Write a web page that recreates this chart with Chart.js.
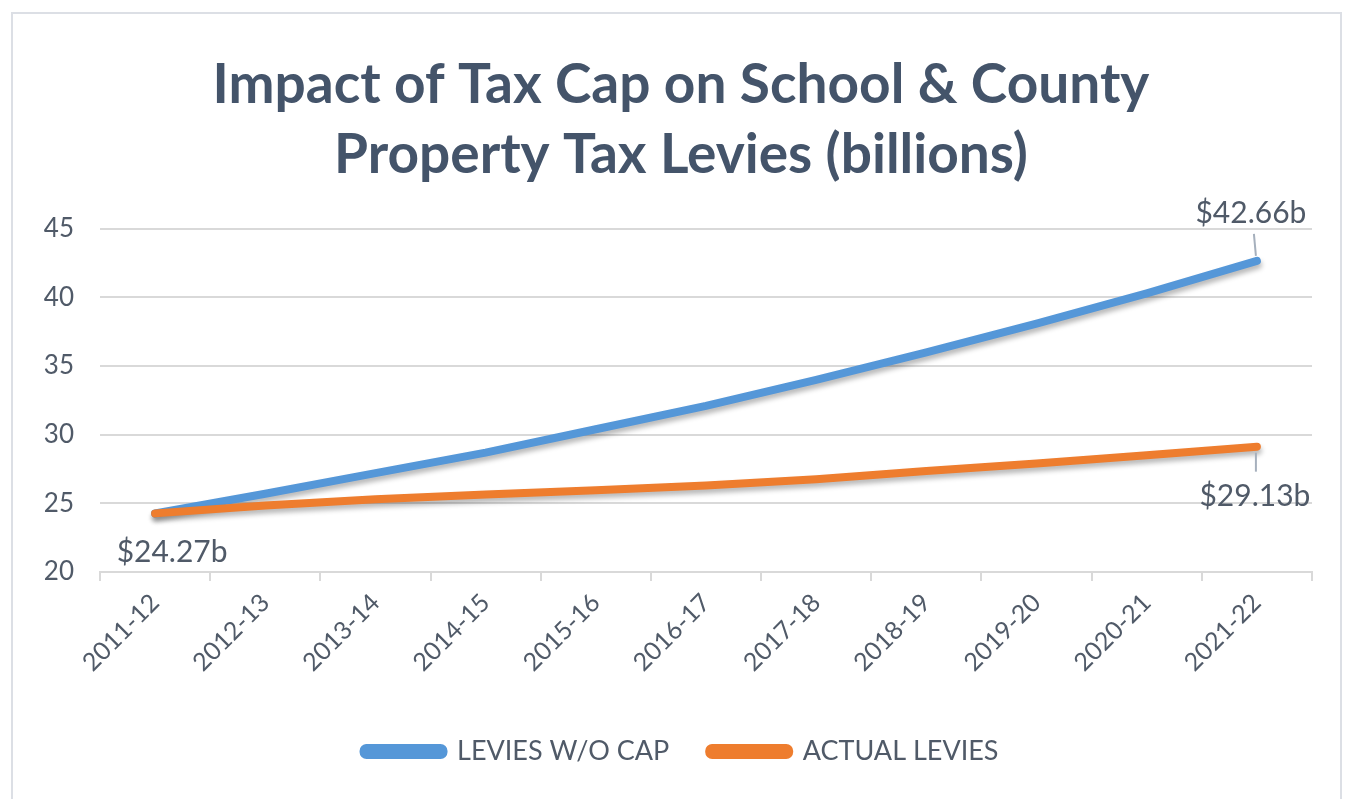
<!DOCTYPE html>
<html>
<head>
<meta charset="utf-8">
<style>
  html, body { margin: 0; padding: 0; background: #fff; overflow: hidden; }
  .frame { position: absolute; left: 11px; top: 12px; width: 1331px; height: 820px; border: 2px solid #dcdfe5; box-sizing: border-box; }
  .wrap { position: absolute; left: 0; top: 0; width: 1353px; height: 799px; }
</style>
</head>
<body>
<div class="frame"></div>
<div class="wrap"><canvas id="levyChart" width="1353" height="799"></canvas></div>

<script src="https://cdn.jsdelivr.net/npm/chart.js"></script>
<script>
    // School years on the x axis
    const years = ['2011-12', '2012-13', '2013-14', '2014-15', '2015-16', '2016-17',
                   '2017-18', '2018-19', '2019-20', '2020-21', '2021-22'];

    // Levies in billions of dollars
    const leviesWithoutCap = [24.27, 25.7, 27.2, 28.7, 30.4, 32.1, 34.0, 36.0, 38.1, 40.3, 42.66];
    const actualLevies     = [24.27, 24.85, 25.3, 25.65, 25.95, 26.3, 26.75, 27.35, 27.9, 28.5, 29.13];

    // Points that carry a value label: [dataset index, point index, dx, dy, leader line]
    const labelledPoints = [
        [0, 10, -6, -48, true],
        [1, 10, -2, 50, true],
        [1, 0, 17, 39, false]
    ];

    const textColor = '#505a68';
    const gridColor = '#d9d9d9';
    const blue = '#5597d8';
    const orange = '#ee7d2e';

    // Soft drop shadow under the lines
    const lineShadow = {
        id: 'lineShadow',
        beforeDatasetsDraw(chart) {
            const ctx = chart.ctx;
            ctx.save();
            ctx.shadowColor = 'rgba(0, 0, 0, 0.28)';
            ctx.shadowBlur = 5;
            ctx.shadowOffsetX = 1;
            ctx.shadowOffsetY = 4;
        },
        afterDatasetsDraw(chart) {
            chart.ctx.restore();
        }
    };

    // Value labels with short leader lines
    const valueLabels = {
        id: 'valueLabels',
        afterDatasetsDraw(chart) {
            const ctx = chart.ctx;
            ctx.save();
            ctx.font = '30px Lato';
            ctx.fillStyle = textColor;
            ctx.textAlign = 'center';
            ctx.textBaseline = 'middle';
            labelledPoints.forEach(([ds, idx, dx, dy, leader]) => {
                const pt = chart.getDatasetMeta(ds).data[idx];
                const value = chart.data.datasets[ds].data[idx];
                const tx = pt.x + dx, ty = pt.y + dy;
                if (leader) {
                    ctx.strokeStyle = '#a6b0bd';
                    ctx.lineWidth = 2;
                    ctx.beginPath();
                    if (dy < 0) {
                        ctx.moveTo(tx + 3, ty + 21);
                        ctx.lineTo(pt.x - 1, pt.y - 5);
                    } else {
                        ctx.moveTo(pt.x - 1, pt.y + 6);
                        ctx.lineTo(pt.x - 1, ty - 25);
                    }
                    ctx.stroke();
                }
                ctx.fillText('$' + value.toFixed(2) + 'b', tx, ty);
            });
            ctx.restore();
        }
    };

    const ctx = document.getElementById('levyChart').getContext('2d');
    const levyChart = new Chart(ctx, {
        type: 'line',
        data: {
            labels: years,
            datasets: [{
                label: 'LEVIES W/O CAP',
                data: leviesWithoutCap,
                borderColor: blue,
                backgroundColor: blue,
                borderWidth: 8,
                borderCapStyle: 'round',
                pointRadius: 0,
                order: 1
            }, {
                label: 'ACTUAL LEVIES',
                data: actualLevies,
                borderColor: orange,
                backgroundColor: orange,
                borderWidth: 8,
                borderCapStyle: 'round',
                pointRadius: 0,
                order: 0
            }]
        },
        options: {
            responsive: false,
            animation: false,
            devicePixelRatio: 1,
            layout: { padding: { left: 12, right: 3, top: 14, bottom: 24 } },
            scales: {
                x: {
                    offset: true,
                    grid: { offset: true, drawOnChartArea: false, drawTicks: true, tickLength: 9, color: gridColor, lineWidth: 2 },
                    border: { display: true, color: gridColor, width: 2 },
                    ticks: {
                        color: textColor,
                        font: { family: 'Lato', size: 25 },
                        minRotation: 45,
                        maxRotation: 45,
                        padding: 7
                    },
                    afterFit(scale) { scale.height = 126; }
                },
                y: {
                    min: 20,
                    max: 45,
                    ticks: {
                        stepSize: 5,
                        color: textColor,
                        font: { family: 'Lato', size: 26 },
                        padding: 26
                    },
                    grid: { color: gridColor, lineWidth: 2, drawTicks: false },
                    border: { display: false },
                    afterFit(scale) { scale.width = 88; }
                },
                // empty right-hand margin beside the plot
                yRight: {
                    position: 'right',
                    min: 20,
                    max: 45,
                    grid: { display: false },
                    border: { display: false },
                    ticks: { display: false },
                    afterFit(scale) { scale.width = 38; }
                }
            },
            plugins: {
                title: {
                    display: true,
                    text: ['Impact of Tax Cap on School & County', 'Property Tax Levies (billions)'],
                    color: '#44546a',
                    font: { family: 'Lato', size: 55, weight: 'bold', lineHeight: 1.28 },
                    padding: { top: 36, bottom: 38 }
                },
                legend: {
                    position: 'bottom',
                    labels: {
                        color: textColor,
                        font: { family: 'Lato', size: 27 },
                        boxWidth: 80,
                        boxHeight: 7,
                        useBorderRadius: true,
                        borderRadius: 3,
                        padding: 40,
                        sort: (a, b) => a.datasetIndex - b.datasetIndex
                    }
                },
                tooltip: { enabled: false }
            }
        },
        plugins: [lineShadow, valueLabels]
    });
</script>
</body>
</html>
